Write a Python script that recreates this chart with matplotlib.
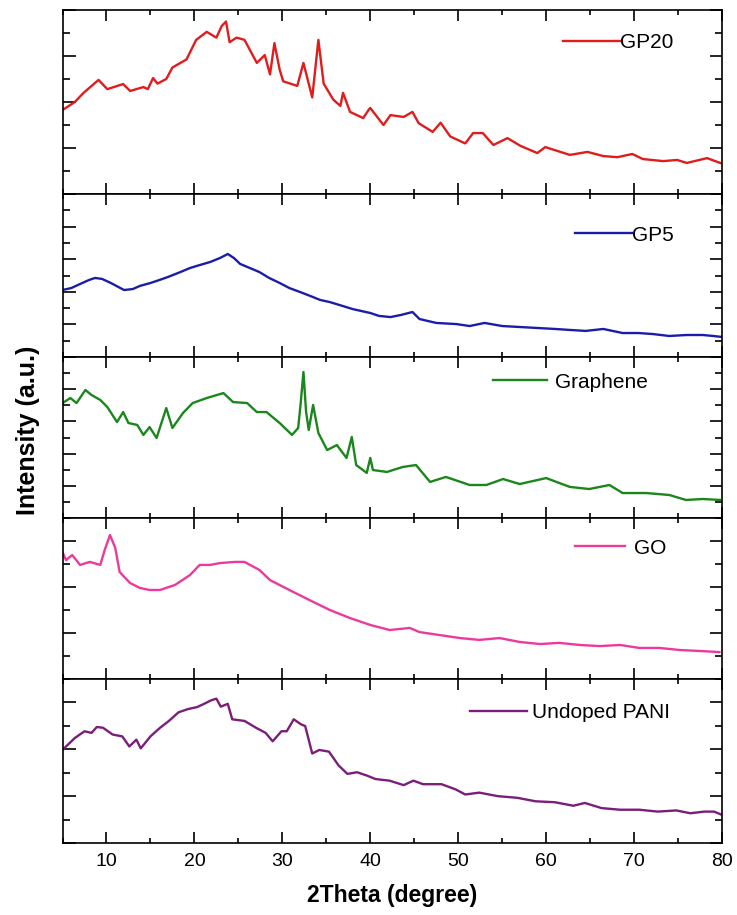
import matplotlib
matplotlib.use('Agg')
import matplotlib.pyplot as plt
from matplotlib.ticker import MultipleLocator

plt.rcParams['font.family'] = ['Liberation Sans', 'DejaVu Sans']

# XRD patterns (2theta in degree, intensity in a.u.)
gp20_x = [5.0, 6.4, 7.4, 9.1, 10.1, 11.9, 12.7, 14.2, 14.7, 15.3, 15.8, 16.8, 17.5, 19.1,
          20.2, 21.4, 22.5, 23.1, 23.6, 24.0, 24.8, 25.7, 27.1, 28.0, 28.6, 29.1, 29.7,
          30.1, 31.7, 32.4, 33.4, 34.1, 34.7, 35.8, 36.6, 36.9, 37.7, 39.2, 39.8, 40.0,
          41.5, 42.3, 43.8, 44.8, 45.5, 47.1, 48.0, 49.1, 50.8, 51.7, 52.8, 54.0, 55.6,
          57.1, 59.0, 59.9, 61.3, 62.7, 64.7, 66.5, 68.1, 69.8, 71.0, 73.3, 74.9, 76.0,
          78.3, 79.8]
gp20_y = [3.65, 4.0, 4.4, 4.96, 4.56, 4.78, 4.48, 4.65, 4.56, 5.04, 4.8, 5.0, 5.5, 5.85,
          6.7, 7.05, 6.8, 7.3, 7.5, 6.6, 6.8, 6.7, 5.7, 6.04, 5.2, 6.56, 5.4,
          4.9, 4.7, 5.7, 4.2, 6.7, 4.8, 4.1, 3.83, 4.4, 3.57, 3.3, 3.65, 3.74,
          3.0, 3.43, 3.35, 3.57, 3.08, 2.7, 3.1, 2.5, 2.2, 2.65, 2.65, 2.13, 2.43,
          2.09, 1.78, 2.04, 1.87, 1.7, 1.83, 1.65, 1.6, 1.74, 1.52, 1.43, 1.48, 1.35,
          1.56, 1.35]

gp5_x = [5.0, 6.0, 7.0, 8.0, 8.7, 9.5, 10.5, 12.0, 13.0, 13.8, 15.0, 16.0, 17.0, 18.4,
         19.5, 20.6, 21.8, 22.9, 23.8, 24.5, 25.2, 26.3, 27.4, 28.5, 29.7, 30.8, 32.0,
         33.2, 34.3, 35.4, 36.5, 38.0, 40.0, 41.0, 42.3, 43.5, 44.8, 45.6, 47.5, 49.8,
         51.3, 53.0, 55.0, 57.0, 59.0, 61.0, 62.7, 64.5, 66.5, 68.7, 70.5, 72.1, 74.0,
         76.0, 77.8, 79.0, 80.0]
gp5_y = [4.11, 4.23, 4.48, 4.72, 4.85, 4.79, 4.54, 4.11, 4.17, 4.36, 4.54, 4.72, 4.91, 5.21,
         5.46, 5.64, 5.83, 6.07, 6.32, 6.07, 5.71, 5.46, 5.21, 4.85, 4.54, 4.23, 3.99,
         3.74, 3.5, 3.37, 3.19, 2.94, 2.7, 2.52, 2.45, 2.58, 2.76, 2.33, 2.09, 2.02,
         1.9, 2.09, 1.9, 1.84, 1.78, 1.72, 1.66, 1.6, 1.72, 1.47, 1.47, 1.41, 1.29,
         1.35, 1.35, 1.29, 1.23]

graphene_x = [5.0, 5.9, 6.6, 7.6, 8.3, 9.3, 10.1, 11.2, 11.9, 12.5, 13.5, 14.2, 14.9, 15.7,
              16.8, 17.5, 18.7, 19.8, 21.4, 23.3, 24.4, 26.0, 27.1, 28.2, 29.7, 31.1, 31.8,
              32.1, 32.4, 32.7, 33.0, 33.5, 34.1, 35.1, 36.2, 37.3, 37.9, 38.4, 39.6, 40.0,
              40.3, 41.9, 43.7, 45.2, 46.8, 48.6, 51.3, 53.2, 55.1, 57.0, 60.0, 62.7, 64.9,
              67.2, 68.7, 71.4, 74.0, 75.9, 77.8, 79.8]
graphene_y = [7.14, 7.45, 7.14, 7.95, 7.64, 7.33, 6.89, 5.96, 6.58, 5.9, 5.78, 5.16, 5.65, 4.97,
              6.83, 5.59, 6.52, 7.14, 7.45, 7.76, 7.2, 7.14, 6.58, 6.58, 5.9, 5.16, 5.59,
              7.2, 9.07, 6.6, 5.47, 7.02, 5.28, 4.22, 4.53, 3.73, 5.03, 3.29, 2.8, 3.73,
              2.98, 2.86, 3.17, 3.29, 2.24, 2.55, 2.05, 2.05, 2.42, 2.11, 2.48, 1.93, 1.8,
              2.05, 1.55, 1.55, 1.43, 1.12, 1.18, 1.12]

go_x = [5.0, 5.4, 6.1, 7.0, 8.1, 9.3, 9.8, 10.4, 11.0, 11.5, 12.7, 13.8, 14.9, 16.1, 17.8,
        19.5, 20.6, 21.8, 22.9, 24.6, 25.7, 27.4, 28.6, 30.8, 33.1, 35.4, 37.7, 40.0,
        42.2, 44.5, 45.6, 47.9, 50.2, 52.4, 54.7, 57.0, 59.3, 61.5, 63.8, 66.1, 68.4,
        70.6, 72.9, 75.2, 77.4, 79.7]
go_y = [5.52, 5.17, 5.39, 4.96, 5.09, 4.96, 5.61, 6.26, 5.7, 4.65, 4.17, 3.96, 3.87, 3.87, 4.09,
        4.52, 4.96, 4.96, 5.04, 5.09, 5.09, 4.74, 4.3, 3.87, 3.43, 3.0, 2.65, 2.35,
        2.13, 2.22, 2.04, 1.91, 1.78, 1.7, 1.78, 1.61, 1.52, 1.57, 1.48, 1.43, 1.48,
        1.35, 1.35, 1.26, 1.22, 1.17]

pani_x = [5.0, 5.4, 6.4, 7.5, 8.3, 8.9, 9.6, 10.7, 11.8, 12.6, 13.4, 13.9, 15.0, 16.1,
          17.1, 18.2, 19.3, 20.3, 21.1, 21.9, 22.5, 23.0, 23.8, 24.3, 25.7, 27.0, 28.1,
          28.9, 29.9, 30.5, 31.3, 32.1, 32.6, 33.4, 34.2, 35.3, 36.4, 37.4, 38.5, 39.6,
          40.6, 42.2, 43.8, 44.9, 46.0, 48.1, 49.7, 50.8, 52.4, 54.5, 56.7, 58.8, 61.0,
          63.1, 64.4, 66.3, 68.4, 70.6, 72.7, 74.8, 76.4, 78.0, 79.1, 80.0]
pani_y = [3.97, 4.12, 4.48, 4.77, 4.7, 4.95, 4.92, 4.63, 4.55, 4.12, 4.41, 4.04, 4.55, 4.92,
          5.21, 5.58, 5.72, 5.8, 5.94, 6.09, 6.16, 5.82, 5.94, 5.28, 5.21, 4.92, 4.7,
          4.34, 4.77, 4.77, 5.28, 5.07, 4.99, 3.82, 3.97, 3.9, 3.31, 2.95, 3.02, 2.88,
          2.73, 2.66, 2.47, 2.66, 2.51, 2.51, 2.29, 2.07, 2.15, 2.0, 1.93, 1.78, 1.74,
          1.59, 1.71, 1.49, 1.42, 1.42, 1.34, 1.39, 1.27, 1.34, 1.34, 1.2]

names = ['GP20', 'GP5', 'Graphene', 'GO', 'Undoped PANI']
colors = ['#e01c1c', '#1c1caa', '#1b861b', '#ec3a9c', '#7a1e7a']
xs = [gp20_x, gp5_x, graphene_x, go_x, pani_x]
ys = [gp20_y, gp5_y, graphene_y, go_y, pani_y]

W, H = 737, 915
fig = plt.figure(figsize=(W / 100, H / 100), dpi=100)

left, right = 62.5, 722
edges = [10, 194, 357, 518, 679, 843]
ytops = [8, 10, 10, 7, 7]
# legend line start (px), vertical spot (px), handle length, text gap
leg_x = [563, 575, 493, 575, 470]
leg_y = [43, 235, 382, 548, 713]
leg_len = [2.75, 2.75, 2.6, 2.4, 2.75]
leg_pad = [0.0, 0.0, 0.4, 0.45, 0.25]

axes = []
for i in range(5):
    top, bot = edges[i], edges[i + 1]
    ax = fig.add_axes([left / W, 1 - bot / H, (right - left) / W, (bot - top) / H])
    ax.plot(xs[i], ys[i], color=colors[i], lw=1.7, label=names[i])
    ax.set_xlim(5, 80)
    ax.set_ylim(0, ytops[i])
    ax.xaxis.set_major_locator(MultipleLocator(10))
    ax.xaxis.set_minor_locator(MultipleLocator(5))
    ax.yaxis.set_major_locator(MultipleLocator(2))
    ax.yaxis.set_minor_locator(MultipleLocator(1))
    ax.tick_params(which='both', direction='in', top=True, right=True,
                   labelleft=False, labelbottom=(i == 4), width=1.2)
    ax.tick_params(axis='x', which='major', length=8)
    ax.tick_params(axis='x', which='minor', length=3.5)
    ax.tick_params(axis='y', which='major', length=9)
    ax.tick_params(axis='y', which='minor', length=5)
    ax.tick_params(axis='x', labelsize=14, pad=7)
    for s in ax.spines.values():
        s.set_linewidth(1.2)
    bx = (leg_x[i] - left) / (right - left)
    by = (bot - leg_y[i]) / (bot - top)
    ax.legend(loc='center left', bbox_to_anchor=(bx, by), frameon=False,
              borderpad=0, borderaxespad=0, handlelength=leg_len[i],
              handletextpad=leg_pad[i], fontsize=15)
    axes.append(ax)

axes[-1].set_xlabel('2Theta (degree)', fontsize=16.5, fontweight='bold', labelpad=10)
fig.text(28 / W, 1 - 430 / H, 'Intensity (a.u.)', rotation=90, fontsize=18,
         fontweight='bold', ha='center', va='center')

fig.savefig('out.png', dpi=100)
